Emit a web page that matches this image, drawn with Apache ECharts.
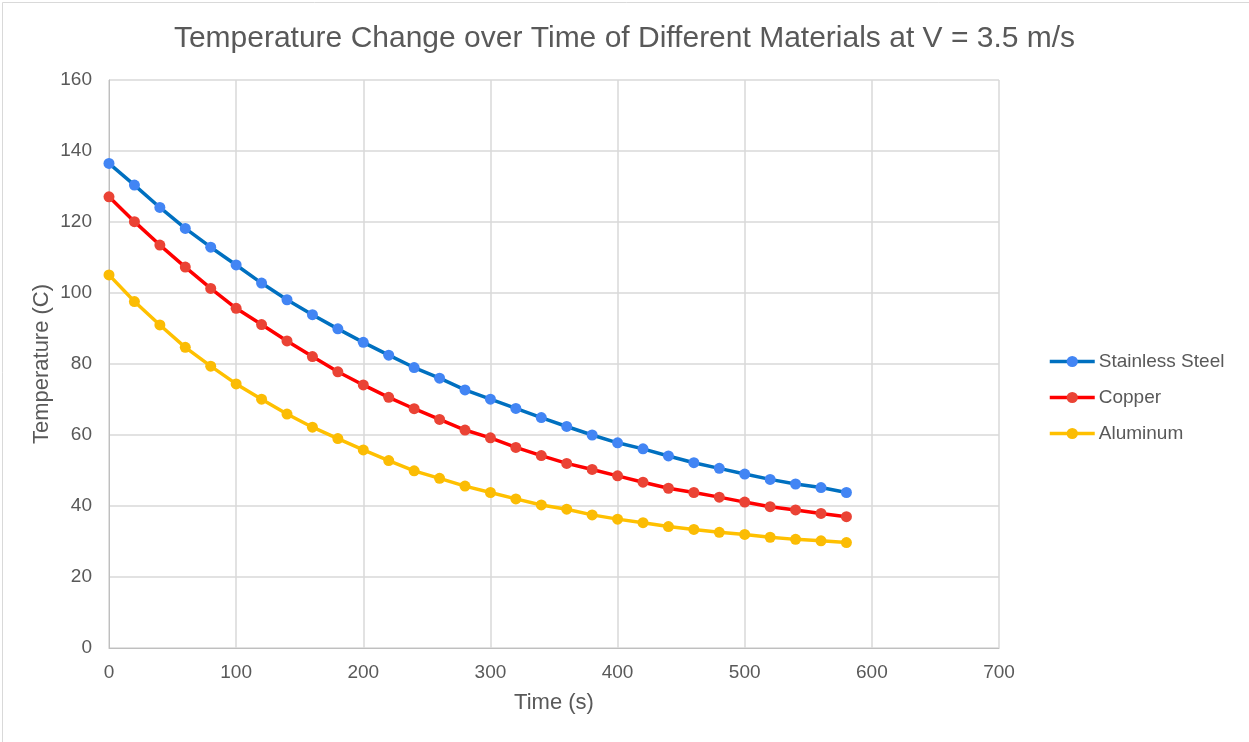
<!DOCTYPE html>
<html>
<head>
<meta charset="utf-8">
<script src="https://cdn.jsdelivr.net/npm/echarts@6/dist/echarts.min.js"></script>
<style>
  html, body { margin: 0; padding: 0; background: #ffffff; }
  #chart { width: 1249px; height: 742px; }
</style>
</head>
<body>
<div id="chart"></div>
<script>
// Time samples (s)
const times = [0, 20, 40, 60, 80, 100, 120, 140, 160, 180, 200, 220, 240, 260, 280,
               300, 320, 340, 360, 380, 400, 420, 440, 460, 480, 500, 520, 540, 560, 580];

// Temperatures (C)
const stainlessSteel = [136.5, 130.4, 124.1, 118.2, 112.9, 107.9, 102.8, 98.1, 93.9, 89.9,
                        86.1, 82.5, 79.0, 76.0, 72.7, 70.1, 67.5, 64.9, 62.4, 60.0,
                        57.8, 56.1, 54.1, 52.2, 50.6, 49.0, 47.5, 46.2, 45.2, 43.8];
const copper = [127.1, 120.1, 113.5, 107.3, 101.3, 95.7, 91.1, 86.5, 82.1, 77.8,
                74.1, 70.6, 67.4, 64.4, 61.4, 59.2, 56.5, 54.2, 52.0, 50.3,
                48.5, 46.7, 45.0, 43.8, 42.5, 41.1, 39.8, 38.9, 37.9, 37.0];
const aluminum = [105.1, 97.6, 91.0, 84.7, 79.4, 74.4, 70.1, 65.9, 62.2, 59.0,
                  55.8, 52.8, 49.9, 47.8, 45.6, 43.8, 42.0, 40.3, 39.1, 37.5,
                  36.3, 35.3, 34.2, 33.4, 32.6, 32.0, 31.2, 30.6, 30.2, 29.7];

const seriesNames = ['Stainless Steel', 'Copper', 'Aluminum'];
const lineColors = ['#0070C0', '#FF0000', '#FFC000'];
const markerColors = ['#4285F4', '#EA4335', '#FBBC04'];

const pairs = vals => times.map((t, i) => [t, vals[i]]);
const allValues = [stainlessSteel, copper, aluminum];

const font = 'Arial, "Liberation Sans", sans-serif';
const textColor = '#595959';

const chart = echarts.init(document.getElementById('chart'), null, { renderer: 'canvas' });

chart.setOption({
  backgroundColor: '#ffffff',
  animation: false,
  title: {
    text: 'Temperature Change over Time of Different Materials at V = 3.5 m/s',
    left: 'center',
    top: 19,
    textStyle: { fontFamily: font, fontSize: 30, fontWeight: 'normal', color: textColor }
  },
  graphic: [{
    type: 'rect',
    left: 0, top: 0,
    shape: { x: 0.5, y: 0.5, width: 1248, height: 741 },
    style: { fill: 'none', stroke: '#d9d9d9', lineWidth: 1 },
    silent: true
  }],
  legend: {
    orient: 'vertical',
    left: 1048,
    top: 352,
    padding: 0,
    itemWidth: 45,
    itemHeight: 14,
    itemGap: 17,
    lineStyle: { width: 3.5 },
    textStyle: { fontFamily: font, fontSize: 19, color: textColor, padding: [0, 0, 0, -1] },
    data: seriesNames
  },
  grid: { left: 109, right: 250, top: 80, bottom: 94, containLabel: false },
  xAxis: {
    type: 'value',
    min: 0, max: 700, interval: 100,
    name: 'Time (s)',
    nameLocation: 'middle',
    nameGap: 44,
    nameMoveOverlap: false,
    nameTextStyle: { fontFamily: font, fontSize: 22, color: textColor },
    axisLine: { show: true, lineStyle: { color: '#bfbfbf', width: 1 } },
    axisTick: { show: false },
    axisLabel: { fontFamily: font, fontSize: 19, color: textColor, margin: 15 },
    splitLine: { show: true, lineStyle: { color: '#d9d9d9', width: 1.5 } }
  },
  yAxis: {
    type: 'value',
    min: 0, max: 160, interval: 20,
    name: 'Temperature (C)',
    nameLocation: 'middle',
    nameGap: 56,
    nameMoveOverlap: false,
    nameTextStyle: { fontFamily: font, fontSize: 22, color: textColor },
    axisLine: { show: true, lineStyle: { color: '#bfbfbf', width: 1 } },
    axisTick: { show: false },
    axisLabel: { fontFamily: font, fontSize: 19, color: textColor, margin: 17 },
    splitLine: { show: true, lineStyle: { color: '#d9d9d9', width: 1.5 } }
  },
  series: seriesNames.map((name, i) => ({
    name: name,
    type: 'line',
    data: pairs(allValues[i]),
    symbol: 'circle',
    symbolSize: 11,
    showSymbol: true,
    lineStyle: { color: lineColors[i], width: 3.5 },
    itemStyle: { color: markerColors[i] },
    z: 3 - i
  }))
});
</script>
</body>
</html>
